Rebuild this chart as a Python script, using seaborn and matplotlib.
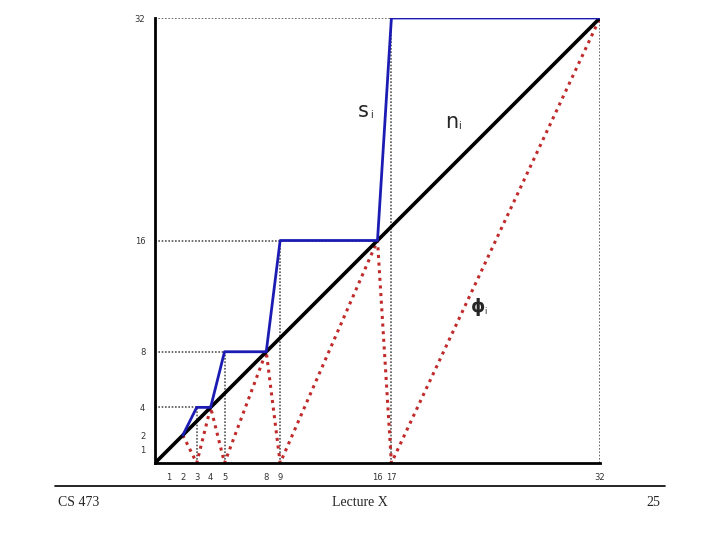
import matplotlib
matplotlib.use("Agg")
import matplotlib.pyplot as plt
import seaborn as sns
import pandas as pd

# data
n_diag = [0, 32]
s_x = [2, 3, 4, 5, 8, 9, 16, 17, 32]
s_y = [2, 4, 4, 8, 8, 16, 16, 32, 32]
phi_x = [2, 3, 4, 5, 8, 9, 16, 17, 32]
phi_y = [2, 0, 4, 0, 8, 0, 16, 0, 32]
x_ticks = [1, 2, 3, 4, 5, 8, 9, 16, 17, 32]
y_ticks = [1, 2, 4, 8, 16, 32]
# guide lines: horizontal (y, x_end), vertical (x, y_end)
h_guides = [(32, 32), (16, 16), (8, 5), (4, 3)]
v_guides = [(3, 4), (5, 8), (9, 16), (17, 32), (32, 32)]

sns.set_style("white")
fig = plt.figure(figsize=(7.2, 5.4), dpi=100)
ax = fig.add_axes([155/720, 1 - 463/540, 445/720, 445/540])

gcol = "#555555"
for y, xe in h_guides:
    ax.plot([0, xe], [y, y], linestyle=(0, (1, 1)), color=gcol, lw=1.2, zorder=1)
for x, ye in v_guides:
    ax.plot([x, x], [0, ye], linestyle=(0, (1, 1)), color=gcol, lw=1.2, zorder=1)

df_n = pd.DataFrame({"x": n_diag, "y": n_diag})
df_s = pd.DataFrame({"x": s_x, "y": s_y})
df_p = pd.DataFrame({"x": phi_x, "y": phi_y})

sns.lineplot(data=df_p, x="x", y="y", ax=ax, color="#c02a2a", lw=2.2,
             linestyle=(0, (1, 1.5)), sort=False, estimator=None, zorder=2)
sns.lineplot(data=df_n, x="x", y="y", ax=ax, color="black", lw=2.6,
             sort=False, estimator=None, zorder=3)
sns.lineplot(data=df_s, x="x", y="y", ax=ax, color="#1c1cb4", lw=2.0,
             sort=False, estimator=None, zorder=4)

ax.set_xlim(0, 32)
ax.set_ylim(0, 32)
ax.set_xticks(x_ticks)
ax.set_xticklabels([str(v) for v in x_ticks])
ax.set_yticks(y_ticks)
ax.set_yticklabels([str(v) for v in y_ticks])
ax.tick_params(axis="both", length=0, labelsize=6, colors="#333333")
ax.tick_params(axis="x", pad=7)
ax.tick_params(axis="y", pad=7)
ax.set_xlabel("")
ax.set_ylabel("")
for side in ["top", "right"]:
    ax.spines[side].set_visible(False)
for side in ["left", "bottom"]:
    ax.spines[side].set_color("black")
    ax.spines[side].set_linewidth(2)

ax.text(15.0, 25.3, "s", fontsize=15, ha="center", va="center", family="DejaVu Sans")
ax.text(15.55, 25.0, "i", fontsize=7, ha="center", va="center", family="DejaVu Sans")
ax.text(21.3, 24.5, "n", fontsize=15, ha="center", va="center", family="DejaVu Sans")
ax.text(21.9, 24.2, "i", fontsize=7, ha="center", va="center", family="DejaVu Sans")
ax.text(23.2, 11.2, "\u03d5", fontsize=13, ha="center", va="center", family="DejaVu Sans", fontweight="bold")
ax.text(23.75, 10.9, "i", fontsize=6, ha="center", va="center", family="DejaVu Sans")

# footer
fig.add_artist(plt.Line2D([55/720, 665/720], [1 - 486/540, 1 - 486/540], color="black", lw=1.2))
fig.text(58/720, 1 - 503/540, "CS 473", fontsize=10, family="Liberation Serif", ha="left", va="center")
fig.text(360/720, 1 - 503/540, "Lecture X", fontsize=10, family="Liberation Serif", ha="center", va="center")
fig.text(660/720, 1 - 503/540, "25", fontsize=10, family="Liberation Serif", ha="right", va="center")

fig.savefig("out.png", dpi=100)
